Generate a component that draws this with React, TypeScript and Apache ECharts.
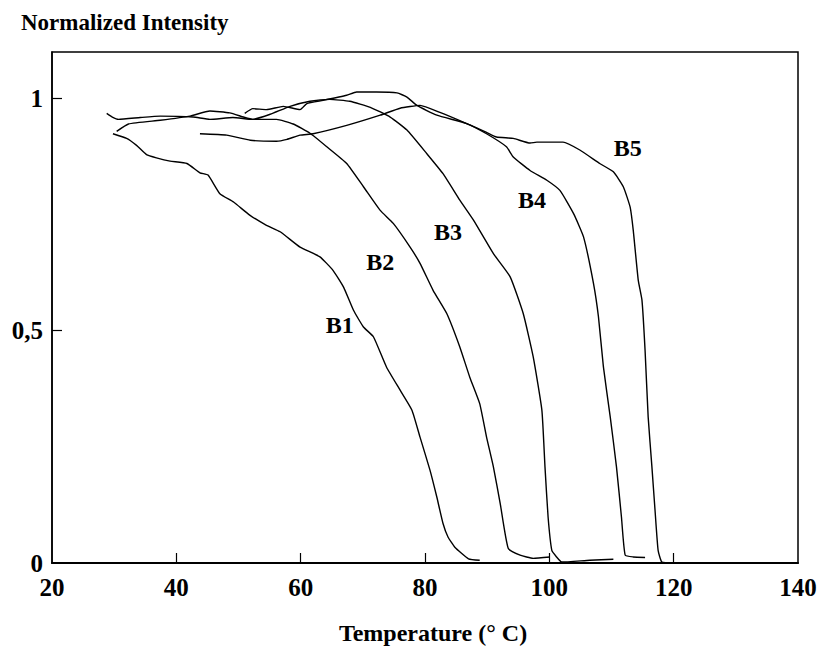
import React, { useEffect, useRef } from "react";
import * as echarts from "echarts";

// Temperature (°C), normalized intensity pairs
const b1: [number, number][] = [
  [29.8, 0.924], [32.0, 0.914], [33.6, 0.899], [35.2, 0.879], [36.8, 0.872], [39.0, 0.865],
  [41.7, 0.86], [43.8, 0.84], [45.1, 0.835], [47.0, 0.795], [49.2, 0.777], [51.8, 0.749],
  [54.5, 0.727], [56.7, 0.713], [59.9, 0.68], [63.1, 0.659], [65.2, 0.63], [66.9, 0.594],
  [68.5, 0.544], [70.1, 0.508], [71.7, 0.487], [73.8, 0.422], [76.0, 0.372], [77.9, 0.329],
  [79.2, 0.271], [80.8, 0.2], [81.9, 0.142], [82.9, 0.085], [83.7, 0.056], [84.8, 0.034],
  [87.0, 0.009], [88.8, 0.006],
];
const b2: [number, number][] = [
  [28.8, 0.968], [29.7, 0.96], [30.7, 0.955], [34.2, 0.959], [37.4, 0.962], [42.7, 0.96],
  [45.4, 0.955], [49.1, 0.959], [52.3, 0.955], [56.1, 0.955], [58.8, 0.945], [61.5, 0.925],
  [64.2, 0.896], [67.4, 0.86], [70.1, 0.81], [72.8, 0.759], [74.9, 0.731], [77.6, 0.68],
  [79.2, 0.645], [81.3, 0.587], [83.5, 0.537], [85.6, 0.465], [87.2, 0.4], [88.8, 0.343],
  [89.9, 0.271], [91.0, 0.207], [92.1, 0.128], [93.4, 0.031], [95.3, 0.017], [97.4, 0.01],
  [100.1, 0.013],
];
const b3: [number, number][] = [
  [30.4, 0.929], [32.3, 0.945], [37.4, 0.953], [42.2, 0.962], [45.4, 0.973], [48.6, 0.969],
  [50.8, 0.96], [52.3, 0.955], [55.1, 0.966], [58.3, 0.983], [61.5, 0.994], [64.7, 0.998],
  [67.9, 0.994], [71.2, 0.981], [74.4, 0.96], [77.1, 0.932], [80.3, 0.881], [82.9, 0.838],
  [85.6, 0.781], [87.8, 0.738], [91.0, 0.666], [93.7, 0.616], [95.8, 0.537], [97.4, 0.444],
  [98.8, 0.329], [99.3, 0.207], [99.8, 0.099], [100.4, 0.027], [101.1, 0.014], [102.0, 0.002],
  [106.5, 0.006], [110.3, 0.008],
];
const b4: [number, number][] = [
  [51.0, 0.968], [52.3, 0.978], [54.5, 0.976], [57.2, 0.983], [59.9, 0.976], [61.0, 0.989],
  [63.6, 0.996], [67.4, 1.007], [69.0, 1.014], [72.2, 1.014], [75.5, 1.012], [77.1, 1.003],
  [78.7, 0.985], [81.9, 0.964], [86.7, 0.946], [89.9, 0.924], [93.1, 0.896], [94.2, 0.874],
  [96.9, 0.845], [99.6, 0.824], [101.7, 0.802], [103.9, 0.752], [105.5, 0.702], [107.1, 0.602],
  [107.9, 0.53], [108.7, 0.422], [109.8, 0.314], [110.8, 0.207], [111.6, 0.099], [112.2, 0.017],
  [113.5, 0.013], [115.4, 0.012],
];
const b5: [number, number][] = [
  [43.8, 0.924], [48.1, 0.921], [51.9, 0.91], [56.1, 0.908], [57.8, 0.912], [59.9, 0.921],
  [62.0, 0.924], [67.4, 0.942], [72.8, 0.964], [76.0, 0.979], [79.2, 0.985], [82.4, 0.97],
  [86.7, 0.946], [89.9, 0.927], [91.5, 0.917], [94.2, 0.914], [96.9, 0.904], [98.0, 0.906],
  [102.2, 0.906], [104.9, 0.889], [108.1, 0.86], [110.3, 0.842], [111.9, 0.81], [113.0, 0.766],
  [113.5, 0.716], [114.3, 0.609], [114.9, 0.566], [115.4, 0.458], [115.9, 0.314], [116.5, 0.207],
  [117.0, 0.114], [117.5, 0.027], [118.1, 0.002], [119.9, 0.0],
];

const seriesNames = ["B1", "B2", "B3", "B4", "B5"];
const seriesData = [b1, b2, b3, b4, b5];
// label anchor positions (temperature, intensity)
const labelT = [66.3, 72.8, 83.7, 97.2, 112.6];
const labelI = [0.512, 0.647, 0.712, 0.781, 0.893];

const xTicks = [20, 40, 60, 80, 100, 120, 140];
const yTicks = [0, 0.5, 1];

const FONT = "'Liberation Serif', 'DejaVu Serif', serif";

export default function App() {
  const ref = useRef<HTMLDivElement>(null);
  useEffect(() => {
    document.body.style.margin = "0";
    if (!ref.current) return;
    const chart = echarts.init(ref.current, undefined, { renderer: "svg" });
    const lines = seriesData.map((d, i) => ({
      type: "line",
      name: seriesNames[i],
      data: d,
      showSymbol: false,
      smooth: 0.15,
      lineStyle: { color: "#000", width: 1.4 },
      itemStyle: { color: "#000" },
      silent: true,
    }));
    chart.setOption({
      animation: false,
      backgroundColor: "#fff",
      title: {
        text: "Normalized Intensity",
        left: 16,
        top: 6,
        textStyle: { fontFamily: FONT, fontWeight: "bold", fontSize: 23, color: "#000" },
      },
      grid: {
        left: 52,
        right: 22,
        top: 52,
        bottom: 87,
        show: true,
        borderColor: "#000",
        borderWidth: 1.5,
        backgroundColor: "transparent",
      },
      xAxis: {
        type: "value",
        min: 20,
        max: 140,
        interval: 20,
        name: "Temperature (° C)",
        nameLocation: "middle",
        nameGap: 58,
        nameTextStyle: { fontFamily: FONT, fontWeight: "bold", fontSize: 24, color: "#000", padding: [0, 0, 0, 16] },
        axisLine: { lineStyle: { color: "#000", width: 2 } },
        axisTick: { inside: true, length: 10, lineStyle: { color: "#000", width: 1.2 }, customValues: xTicks.slice(1, -1) },
        axisLabel: { fontFamily: FONT, fontWeight: "bold", fontSize: 25, color: "#000", margin: 12, customValues: xTicks },
        splitLine: { show: false },
      },
      yAxis: {
        type: "value",
        min: 0,
        max: 1.1,
        axisLine: { show: true, lineStyle: { color: "#000", width: 1.5 } },
        axisTick: { show: true, inside: true, length: 10, lineStyle: { color: "#000", width: 1.2 }, customValues: yTicks.slice(1) },
        axisLabel: {
          fontFamily: FONT,
          fontWeight: "bold",
          fontSize: 25,
          color: "#000",
          margin: 9,
          customValues: yTicks,
          formatter: (v: number) => String(v).replace(".", ","),
        },
        splitLine: { show: false },
      },
      series: [
        ...lines,
        {
          type: "scatter",
          symbolSize: 0,
          silent: true,
          itemStyle: { color: "#000", opacity: 1 },
          data: seriesNames.map((n, i) => ({ name: n, value: [labelT[i], labelI[i]] })),
          label: {
            show: true,
            position: "inside",
            formatter: (p: any) => p.name,
            fontFamily: FONT,
            fontWeight: "bold",
            fontSize: 24,
            color: "#000",
            textBorderWidth: 0,
            opacity: 1,
          },
        },
      ],
    });
    return () => chart.dispose();
  }, []);
  return <div ref={ref} style={{ width: 820, height: 650 }} />;
}
